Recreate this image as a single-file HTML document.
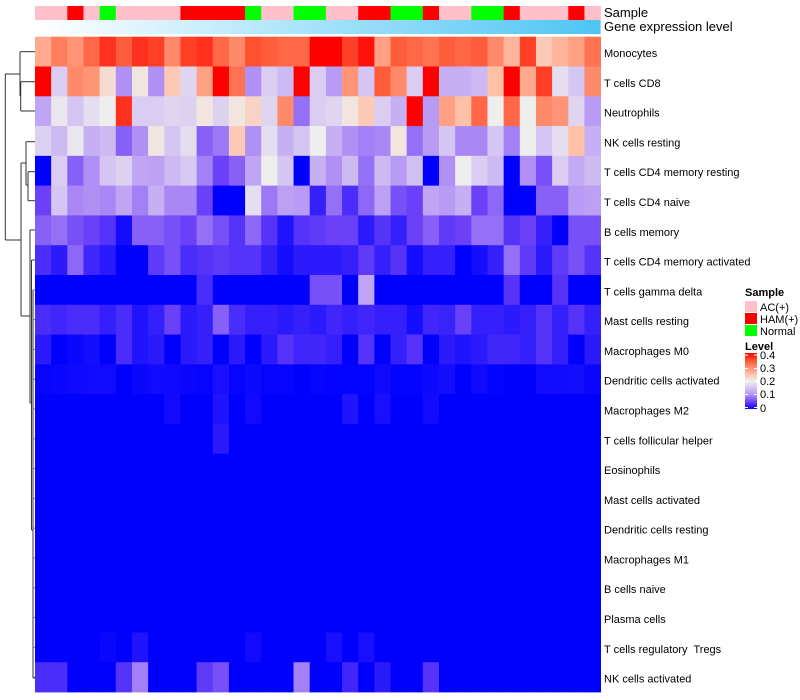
<!DOCTYPE html>
<html><head><meta charset="utf-8"><style>
html,body{margin:0;padding:0;background:#fff;width:800px;height:700px;overflow:hidden}
svg{display:block;font-family:"Liberation Sans",Arial,sans-serif}
</style></head><body>
<svg id="chart" width="800" height="700" viewBox="0 0 800 700">
<defs>
<linearGradient id="geneGrad" x1="0" x2="1" y1="0" y2="0"><stop offset="0" stop-color="#ffffff"/><stop offset="1" stop-color="#4dc5f4"/></linearGradient>
<linearGradient id="levelGrad" x1="0" x2="0" y1="1" y2="0">
<stop offset="0" stop-color="#0000ff"/><stop offset="0.125" stop-color="#6a40f8"/><stop offset="0.25" stop-color="#b090f5"/><stop offset="0.375" stop-color="#d5c5f2"/><stop offset="0.5" stop-color="#eeeeee"/><stop offset="0.625" stop-color="#ffc0a8"/><stop offset="0.75" stop-color="#ff8a6a"/><stop offset="0.875" stop-color="#ff5030"/><stop offset="1" stop-color="#ff0000"/></linearGradient>
</defs>
<g id="dendro" stroke="#333" stroke-width="1" fill="none"></g>
<g id="annot"></g>
<g id="cells"></g>
<g id="labels" font-size="11" fill="#000"></g>
<text x="604" y="17" font-size="13">Sample</text>
<text x="604" y="31" font-size="13">Gene expression level</text>
<g font-size="11">
<text x="745" y="296" font-weight="bold">Sample</text>
<rect x="745" y="301" width="12" height="11" fill="#ffc0cb"/>
<text x="760" y="311">AC(+)</text>
<rect x="745" y="313" width="12" height="11" fill="#ff0000"/>
<text x="760" y="323">HAM(+)</text>
<rect x="745" y="325" width="12" height="11" fill="#00ff00"/>
<text x="760" y="335">Normal</text>
</g>
<g font-size="11">
<text x="745" y="350" font-weight="bold">Level</text>
<rect x="745" y="353" width="12" height="56" fill="url(#levelGrad)"/>
<g stroke="#fff" stroke-width="1">
<line x1="745" x2="748" y1="355" y2="355"/><line x1="754" x2="757" y1="355" y2="355"/>
<line x1="745" x2="748" y1="368.5" y2="368.5"/><line x1="754" x2="757" y1="368.5" y2="368.5"/>
<line x1="745" x2="748" y1="381.5" y2="381.5"/><line x1="754" x2="757" y1="381.5" y2="381.5"/>
<line x1="745" x2="748" y1="394.5" y2="394.5"/><line x1="754" x2="757" y1="394.5" y2="394.5"/>
<line x1="745" x2="748" y1="407.5" y2="407.5"/><line x1="754" x2="757" y1="407.5" y2="407.5"/>
</g>
<text x="760" y="359">0.4</text>
<text x="760" y="372">0.3</text>
<text x="760" y="385">0.2</text>
<text x="760" y="398">0.1</text>
<text x="760" y="412">0</text>
</g>
</svg>
<script>
const rowNames = ["Monocytes","T cells CD8","Neutrophils","NK cells resting","T cells CD4 memory resting","T cells CD4 naive","B cells memory","T cells CD4 memory activated","T cells gamma delta","Mast cells resting","Macrophages M0","Dendritic cells activated","Macrophages M2","T cells follicular helper","Eosinophils","Mast cells activated","Dendritic cells resting","Macrophages M1","B cells naive","Plasma cells","T cells regulatory\u00a0 Tregs","NK cells activated"];
const sampleGroups = ["A","A","H","A","N","A","A","A","A","H","H","H","H","N","A","A","N","N","A","A","H","H","N","N","H","A","A","N","N","H","A","A","A","H","A"];
const rowMonocytes = [0.27,0.31,0.29,0.33,0.37,0.34,0.37,0.36,0.3,0.36,0.37,0.33,0.3,0.35,0.34,0.33,0.33,0.4,0.4,0.36,0.39,0.28,0.34,0.33,0.32,0.34,0.33,0.34,0.3,0.26,0.36,0.24,0.26,0.28,0.32];
const rowCD8 = [0.4,0.16,0.3,0.29,0.22,0.1,0.21,0.1,0.24,0.17,0.28,0.4,0.32,0.1,0.16,0.14,0.4,0.16,0.11,0.29,0.15,0.34,0.3,0.16,0.4,0.13,0.13,0.14,0.25,0.4,0.27,0.36,0.18,0.15,0.3];
const rowNeutrophils = [0.12,0.19,0.15,0.18,0.2,0.37,0.16,0.16,0.17,0.165,0.21,0.165,0.21,0.23,0.17,0.3,0.08,0.16,0.17,0.21,0.24,0.16,0.13,0.4,0.11,0.28,0.25,0.33,0.2,0.33,0.2,0.3,0.29,0.17,0.11];
const rowNKResting = [0.165,0.14,0.19,0.13,0.14,0.07,0.1,0.21,0.15,0.18,0.07,0.085,0.24,0.1,0.18,0.13,0.15,0.2,0.13,0.1,0.09,0.095,0.21,0.08,0.11,0.15,0.095,0.095,0.15,0.09,0.2,0.15,0.18,0.25,0.13];
const rowCD4MemRest = [0,0.16,0.07,0.1,0.15,0.165,0.12,0.115,0.14,0.155,0.09,0.05,0.07,0.12,0.2,0.15,0,0.13,0.1,0.14,0.08,0.14,0.11,0.145,0,0.1,0.2,0.16,0.14,0,0.1,0.06,0.16,0.125,0.14];
const rowCD4Naive = [0.05,0.15,0.095,0.1,0.095,0.12,0.09,0.13,0.095,0.095,0.05,0,0,0.18,0.085,0.115,0.11,0.025,0.08,0.035,0.075,0.115,0.06,0.05,0.12,0.11,0.13,0.05,0.075,0,0,0.07,0.07,0.11,0.115];
const rowBMem = [0.07,0.08,0.06,0.05,0.04,0.01,0.07,0.07,0.06,0.05,0.08,0.06,0.04,0.075,0.04,0.015,0.04,0.045,0.05,0.05,0.02,0.04,0.025,0.05,0.07,0.045,0.05,0.08,0.08,0.04,0.05,0.025,0,0.06,0.06];
const rowCD4MemAct = [0.035,0.02,0.075,0.03,0.02,0,0,0.045,0.06,0.035,0.04,0.045,0.04,0.04,0.025,0.01,0.02,0.02,0.02,0.025,0.045,0.025,0.04,0.01,0.025,0.025,0,0.01,0.025,0.08,0.045,0.02,0.045,0.06,0.04];
const rowGammaDelta = [0,0,0,0,0,0,0,0,0,0,0.035,0,0,0,0,0,0,0.06,0.06,0,0.12,0,0,0,0,0,0,0,0,0.04,0,0,0.04,0,0];
const rowMastRest = [0.035,0.03,0.035,0.035,0.025,0.035,0.015,0.025,0.05,0.02,0.025,0.07,0.035,0.025,0.025,0.02,0.025,0.02,0.03,0.025,0.03,0.025,0.025,0.01,0.03,0.027,0.05,0.025,0.025,0.02,0.025,0.04,0.025,0.04,0.025];
const rowM0 = [0.02,0,0.005,0.01,0,0.035,0.015,0.02,0,0.02,0.025,0,0.02,0,0.02,0.04,0.03,0.03,0.025,0,0.04,0,0.025,0.04,0,0.02,0.015,0.02,0.03,0.03,0.025,0.04,0.025,0,0.02];
const rowDCAct = [0.003,0.005,0.007,0.008,0.008,0,0.005,0.008,0.007,0.005,0.003,0.012,0.003,0.006,0.003,0.003,0,0.004,0.002,0.002,0.002,0.007,0.002,0.002,0.006,0.01,0,0.007,0.002,0,0,0.008,0.008,0.01,0.005];
const rowM2 = [0,0,0,0,0,0,0,0,0.008,0,0,0.015,0,0.008,0,0,0,0,0,0.015,0,0.012,0,0,0.008,0,0,0,0,0,0,0,0,0,0];
const rowTfh = [0,0,0,0,0,0,0,0,0,0,0,0.02,0,0,0,0,0,0,0,0,0,0,0,0,0,0,0,0,0,0,0,0,0,0,0];
const rowEos = [0,0,0,0,0,0,0,0,0,0,0,0,0,0,0,0,0,0,0,0,0,0,0,0,0,0,0,0,0,0,0,0,0,0,0];
const rowMastAct = [0,0,0,0,0,0,0,0,0,0,0,0,0,0,0,0,0,0,0,0,0,0,0,0,0,0,0,0,0,0,0,0,0,0,0];
const rowDCRest = [0,0,0,0,0,0,0,0,0,0,0,0,0,0,0,0,0,0,0,0,0,0,0,0,0,0,0,0,0,0,0,0,0,0,0];
const rowM1 = [0,0,0,0,0,0,0,0,0,0,0,0,0,0,0,0,0,0,0,0,0,0,0,0,0,0,0,0,0,0,0,0,0,0,0];
const rowBNaive = [0,0,0,0,0,0,0,0,0,0,0,0,0,0,0,0,0,0,0,0,0,0,0,0,0,0,0,0,0,0,0,0,0,0,0];
const rowPlasma = [0,0,0,0,0,0,0,0,0,0,0,0,0,0,0,0,0,0,0,0,0,0,0,0,0,0,0,0,0,0,0,0,0,0,0];
const rowTregs = [0,0,0,0,0.005,0,0.015,0,0,0,0,0,0,0.008,0,0,0,0,0.012,0,0.012,0,0,0,0,0,0,0,0,0,0,0,0,0,0];
const rowNKAct = [0.035,0.035,0,0,0,0.04,0.09,0,0,0,0.045,0.06,0,0,0,0,0.09,0,0,0.03,0,0.02,0,0,0.04,0,0,0,0,0,0,0,0,0,0];
const matrix = [rowMonocytes,rowCD8,rowNeutrophils,rowNKResting,rowCD4MemRest,rowCD4Naive,rowBMem,rowCD4MemAct,rowGammaDelta,rowMastRest,rowM0,rowDCAct,rowM2,rowTfh,rowEos,rowMastAct,rowDCRest,rowM1,rowBNaive,rowPlasma,rowTregs,rowNKAct];

const NS="http://www.w3.org/2000/svg";
const X0=35, X1=600.6, Y0=36.7, Y1=692;
const nCol=sampleGroups.length, nRow=rowNames.length;
const cw=(X1-X0)/nCol, rh=(Y1-Y0)/nRow;
function xPos(i){return X0+i*cw;}
function yPos(r){return Y0+r*rh;}
const stops=[[0,[0,0,255]],[0.05,[106,64,248]],[0.1,[176,144,245]],[0.15,[213,197,242]],[0.2,[238,238,238]],[0.25,[255,192,168]],[0.3,[255,138,106]],[0.35,[255,80,48]],[0.4,[255,0,0]]];
function colorOf(v){
  v=Math.max(0,Math.min(0.4,v));
  for(let k=0;k<stops.length-1;k++){
    const a=stops[k],b=stops[k+1];
    if(v<=b[0]){const t=(v-a[0])/(b[0]-a[0]);
      return "rgb("+a[1].map((c,j)=>Math.round(c+(b[1][j]-c)*t)).join(",")+")";}
  }
  return "rgb(255,0,0)";
}
function mk(tag,attrs){const e=document.createElementNS(NS,tag);for(const k in attrs)e.setAttribute(k,attrs[k]);return e;}
const sampleColor={A:"#ffc0cb",H:"#ff0000",N:"#00ff00"};
const annot=document.getElementById("annot");
for(let i=0;i<nCol;i++){
  const r=mk("rect",{x:xPos(i),y:6,width:cw+0.4,height:14,fill:sampleColor[sampleGroups[i]]});
  
  
  annot.appendChild(r);
}
const g=mk("rect",{x:X0,y:20,width:X1-X0,height:14,fill:"url(#geneGrad)"});


annot.appendChild(g);

const cells=document.getElementById("cells");
const labels=document.getElementById("labels");
for(let r=0;r<nRow;r++){
  for(let i=0;i<nCol;i++){
    const c=mk("rect",{x:xPos(i),y:yPos(r),width:cw+0.4,height:rh+0.4,fill:colorOf(matrix[r][i])});
    
    
    cells.appendChild(c);
  }
  const t=mk("text",{x:604,y:yPos(r)+rh/2+5.5});
  t.textContent=rowNames[r];
  
  
  labels.appendChild(t);
}
const dendro=document.getElementById("dendro");
const lines=[
 [20,51.7,35,51.7],[20.7,81.7,35,81.7],[20.7,111,35,111],[20.7,81.7,20.7,111],[20,51.7,20,96],[5.3,74,20,74],
 [5.3,74,5.3,240],[5.3,240,21,240],[21,163,21,316],[21,163,26,163],[26,141.7,26,185],[26,141.7,35,141.7],
 [26,185,28,185],[28,171.7,28,200.7],[28,171.7,35,171.7],[28,200.7,35,200.7],
 [21,316,30,316],[30,230,30,403],[30,230,35,230],[30,403,31.5,403],[31.5,260,31.5,530],[31.5,260,35,260],
 [31.5,530,33,530],[33,290,33,678],[33,678,35,678]
];
lines.forEach(l=>{const e=mk("line",{x1:l[0],y1:l[1],x2:l[2],y2:l[3]});
  
  
  dendro.appendChild(e);});
for(let r=8;r<nRow;r++){
  const y=yPos(r)+rh/2;
  const e=mk("line",{x1:33,y1:y,x2:35,y2:y,stroke:"#777"});
  
  
  dendro.appendChild(e);
}
</script>
</body></html>
